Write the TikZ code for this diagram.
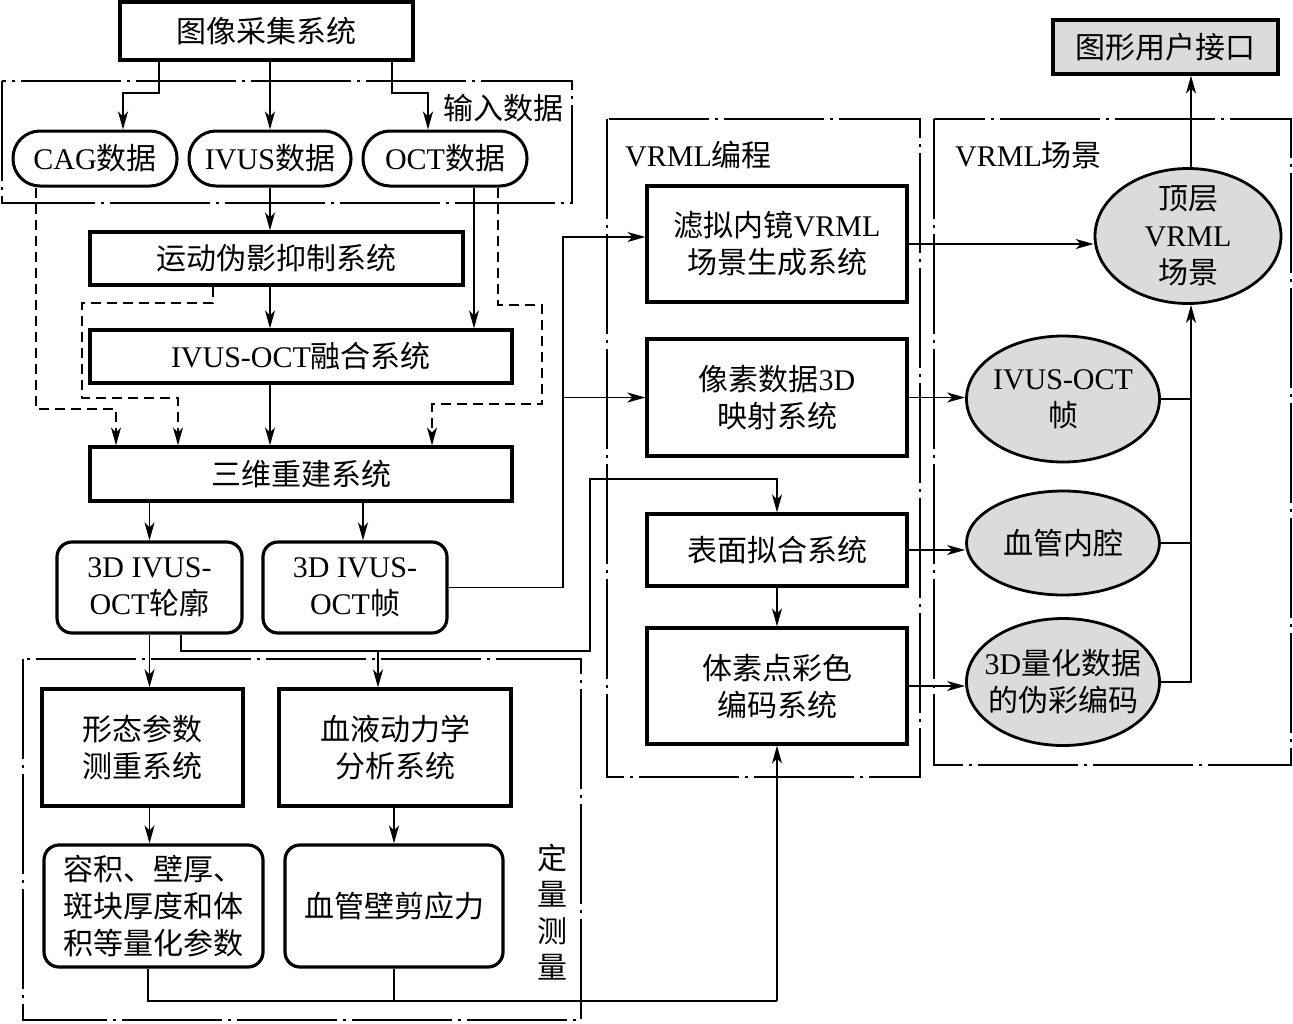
\documentclass[tikz,border=0pt]{standalone}
\usepackage{fontspec}
\setmainfont{Liberation Serif}
\newfontfamily\cjk[Scale=1.0]{Noto Sans CJK SC}
\newcommand\zh[1]{{\cjk #1}}
\usetikzlibrary{arrows.meta,shapes.geometric,calc}
\begin{document}
\begin{tikzpicture}[x=1pt,y=-1pt,
 font=\fontsize{30}{37}\selectfont,
 box/.style={draw, line width=3.2pt, inner sep=0pt, align=center},
 rbox/.style={box, rounded corners=15pt},
 stad/.style={box, line width=3pt, rounded corners=27pt, minimum height=55pt},
 ell/.style={ellipse, draw, line width=2.8pt, fill=gray!28, inner sep=0pt},
 lab/.style={align=center, inner sep=0pt},
 line/.style={line width=1.9pt},
 conn/.style={line, -{Stealth[length=18pt,width=10pt,inset=5pt]}},
 dconn/.style={conn, dash pattern=on 10pt off 6pt},
 grp/.style={line width=1.9pt, dash pattern=on 100pt off 6pt on 3pt off 6pt},
]
\useasboundingbox (0,0) rectangle (1293,1023);

% groups
\draw[grp] (2,81) rectangle (572,203);
\draw[grp] (23,659) rectangle (581,1020);
\draw[grp] (607,119) rectangle (920,777);
\draw[grp] (934,119) rectangle (1291,765);

% nodes
\node[box, minimum width=293pt, minimum height=58pt] (top) at (266.5,31) {\zh{图像采集系统}};
\node[box, fill=gray!28, minimum width=225pt, minimum height=54pt] (gui) at (1165.5,47) {\zh{图形用户接口}};
\node[inner sep=0pt] (inlab) at (503,108) {\zh{输入数据}};
\node[stad, minimum width=164pt] (cag) at (95,158.5) {CAG\zh{数据}};
\node[stad, minimum width=162pt] (ivus) at (270,158.5) {IVUS\zh{数据}};
\node[stad, minimum width=164pt] (oct) at (445,158.5) {OCT\zh{数据}};
\node[box, minimum width=373pt, minimum height=53pt] (mot) at (276.5,258.5) {\zh{运动伪影抑制系统}};
\node[box, minimum width=422pt, minimum height=53pt] (fus) at (301,356.5) {IVUS-OCT\zh{融合系统}};
\node[box, minimum width=422pt, minimum height=54pt] (rec) at (301,474) {\zh{三维重建系统}};
\node[rbox, minimum width=185pt, minimum height=91pt] (lun) at (149.5,587.5) {3D IVUS-\\OCT\zh{轮廓}};
\node[rbox, minimum width=184pt, minimum height=91pt] (zhen) at (355,587.5) {3D IVUS-\\OCT\zh{帧}};
\node[box, minimum width=201pt, minimum height=117pt] (morph) at (142.5,747.5) {\zh{形态参数}\\\zh{测重系统}};
\node[box, minimum width=232pt, minimum height=117pt] (hemo) at (395,747.5) {\zh{血液动力学}\\\zh{分析系统}};
\node[rbox, minimum width=219pt, minimum height=122pt] (vol) at (153.5,906) {\zh{容积、壁厚、}\\\zh{斑块厚度和体}\\\zh{积等量化参数}};
\node[rbox, minimum width=218pt, minimum height=122pt] (wss) at (394,906) {\zh{血管壁剪应力}};
\node[lab, font=\fontsize{30}{36.5}\selectfont] (qlab) at (552,912) {\zh{定}\\\zh{量}\\\zh{测}\\\zh{量}};

\node[anchor=west, inner sep=0pt] (vplab) at (625,155) {VRML\zh{编程}};
\node[anchor=west, inner sep=0pt] (vslab) at (955,155) {VRML\zh{场景}};
\node[box, minimum width=260pt, minimum height=116pt] (filt) at (777,244) {\zh{滤拟内镜}VRML\\\zh{场景生成系统}};
\node[box, minimum width=260pt, minimum height=117pt] (pix) at (777,397.5) {\zh{像素数据}3D\\\zh{映射系统}};
\node[box, minimum width=260pt, minimum height=72pt] (surf) at (777,550) {\zh{表面拟合系统}};
\node[box, minimum width=260pt, minimum height=116pt] (vox) at (777,686) {\zh{体素点彩色}\\\zh{编码系统}};

\node[ell, minimum width=186pt, minimum height=135pt, label={[lab]center:{\zh{顶层}\\VRML\\\zh{场景}}}] (topv) at (1188,236) {};
\node[ell, minimum width=193pt, minimum height=126pt, label={[lab]center:{IVUS-OCT\\\zh{帧}}}] (ef) at (1063,399) {};
\node[ell, minimum width=193pt, minimum height=104pt, label={[lab]center:{\zh{血管内腔}}}] (el) at (1063,543) {};
\node[ell, minimum width=193pt, minimum height=127pt, label={[lab]center:{3D\zh{量化数据}\\\zh{的伪彩编码}}}] (eq) at (1063,682) {};

% connectors top
\draw[conn] ([xshift=-107.5pt]top.south) -- ++(0,31) -| ([xshift=28pt]cag.north);
\draw[conn] (top.south -| ivus.north) -- (ivus.north);
\draw[conn] ([xshift=125.5pt]top.south) -- ++(0,31) -| ([xshift=-17pt]oct.north);
\draw[conn] (ivus.south) -- (ivus.south |- mot.north);
\draw[conn] (mot.south -| ivus.south) -- (ivus.south |- fus.north);
\coordinate (oc) at ([xshift=29pt]oct.south);
\draw[conn] (oc) -- (oc |- fus.north);
\draw[conn] (fus.south -| ivus.south) -- (ivus.south |- rec.north);

% dashed
\coordinate (d1) at (116,409);
\draw[dconn] ([xshift=-59pt]cag.south) |- (d1) -- (d1 |- rec.north);
\coordinate (d2a) at (82,303);
\coordinate (d2b) at (178,398);
\draw[dconn] ([xshift=-63.5pt]mot.south) |- (d2a) |- (d2b) -- (d2b |- rec.north);
\coordinate (d3a) at (542,305);
\coordinate (d3b) at (432,404);
\draw[dconn] ([xshift=53pt]oct.south) |- (d3a) |- (d3b) -- (d3b |- rec.north);

% lower left
\draw[conn] (rec.south -| lun.north) -- (lun.north);
\coordinate (zn) at ([xshift=8pt]zhen.north);
\draw[conn] (zn |- rec.south) -- (zn);
\draw[conn] (lun.south) -- (lun.south |- morph.north);
\coordinate (j2) at (590,651);
\coordinate (j3) at (590,479);
\draw[conn] ([xshift=31.5pt]lun.south) |- (j2) -- (j3) -| (surf.north);
\coordinate (hn) at ([xshift=-17pt]hemo.north);
\draw[conn] (hn |- j2) -- (hn);
\draw[conn] (lun.south |- morph.south) -- (lun.south |- vol.north);
\draw[conn] (wss.north |- hemo.south) -- (wss.north);
\coordinate (b1) at (777,1001);
\draw[line] ([xshift=-5.5pt]vol.south) |- (b1);
\draw[line] (wss.south) -- (wss.south |- b1);
\draw[conn] (b1) -- (vox.south);

% to VRML programming
\coordinate (j1) at (563,0);
\coordinate (fw) at ([yshift=7pt]filt.west);
\draw[conn] (zhen.east) -| (fw -| j1) -- (fw);
\draw[conn] (pix.west -| j1) -- (pix.west);
\draw[conn] (surf.south) -- (vox.north);

% to scene
\draw[conn] (filt.east) -- (filt.east -| topv.west);
\draw[conn] (pix.east) -- (pix.east -| ef.west);
\draw[conn] (surf.east) -- (surf.east -| el.west);
\draw[conn] (vox.east) -- (vox.east -| eq.west);
\coordinate (rv) at ([xshift=3pt]topv.south);
\draw[line] (ef.east) -- (ef.east -| rv);
\draw[line] (el.east) -- (el.east -| rv);
\draw[conn] (eq.east) -| (rv);
\coordinate (tn) at ([xshift=3pt]topv.north);
\draw[conn] (tn) -- (tn |- gui.south);
\end{tikzpicture}
\end{document}
